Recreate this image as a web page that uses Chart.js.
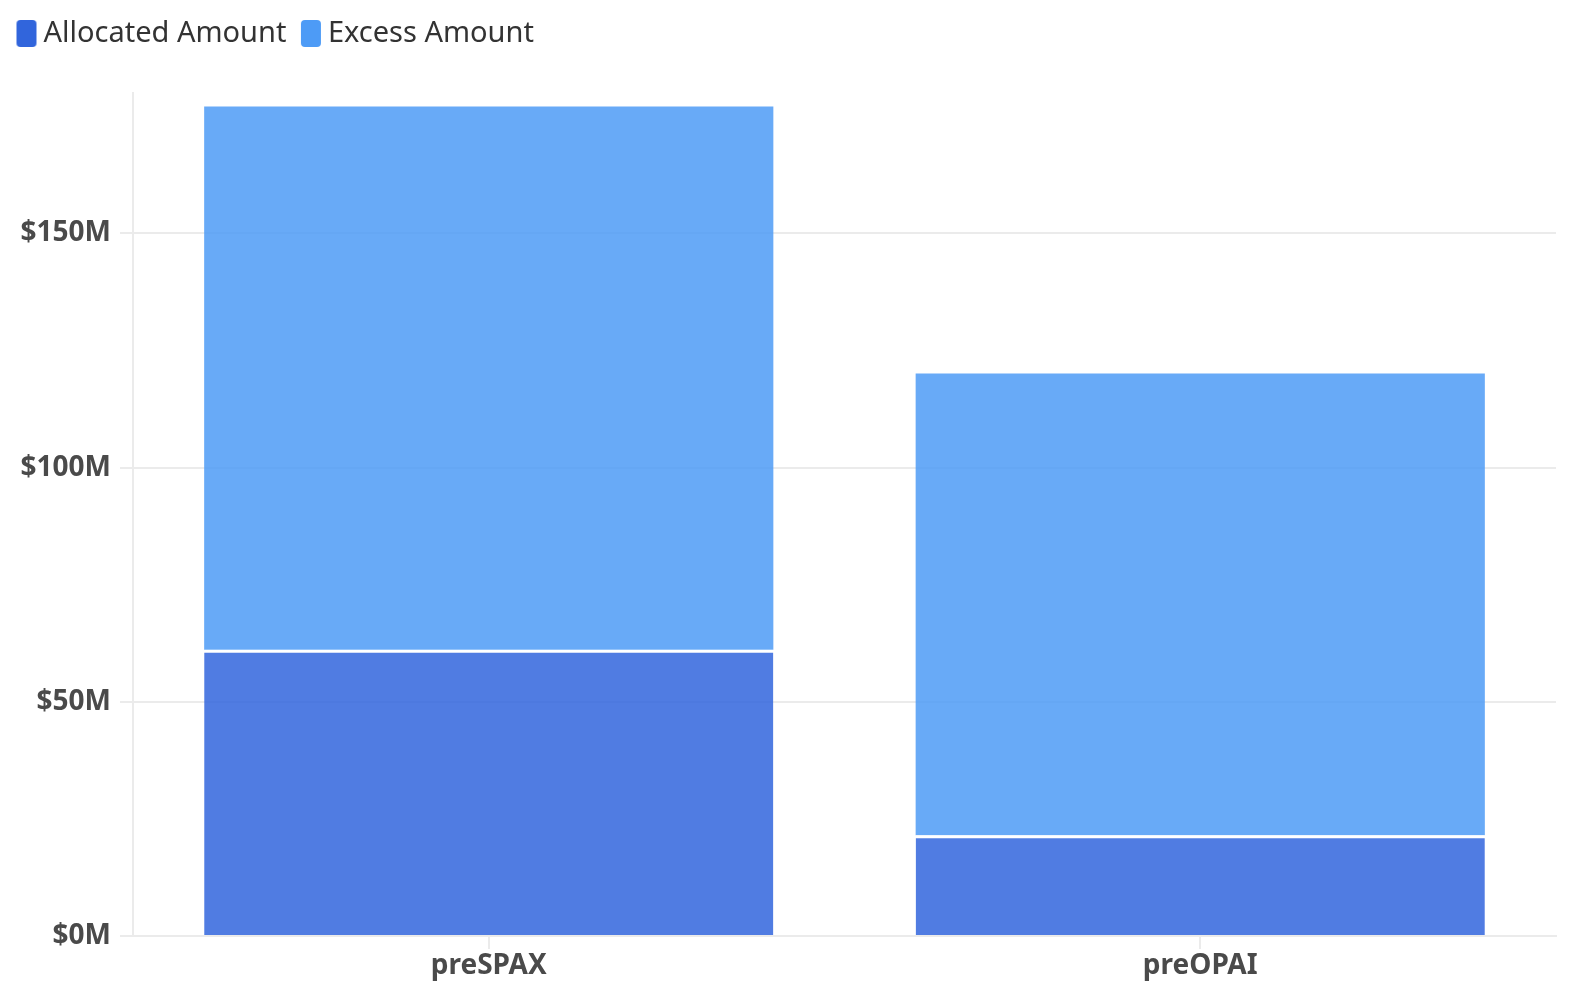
<!DOCTYPE html>
<html>
<head>
<meta charset="utf-8">
<script src="https://cdn.jsdelivr.net/npm/chart.js@4"></script>
<style>
  html, body { margin: 0; padding: 0; background: #fff; }
  #wrap { width: 1574px; height: 996px; position: relative; }
</style>
</head>
<body>
<div id="wrap"><canvas id="c"></canvas></div>
<script>
const categories = ["preSPAX", "preOPAI"];
const allocatedAmount = [61.1, 21.5];   // $M
const excessAmount = [116.0, 98.6];     // $M
const seriesNames = ["Allocated Amount", "Excess Amount"];
const yTicks = [0, 50, 100, 150];

const FONT = "'Noto Sans', 'Open Sans', sans-serif";
const solidColors = ["#3165dc", "#4d9bf6"];
const barColors = ["rgba(49,101,221,0.85)", "rgba(77,155,246,0.85)"];

function swatch(color) {
  const c = document.createElement('canvas');
  c.width = 40; c.height = 27;
  const g = c.getContext('2d');
  g.fillStyle = color;
  const x = 16, w = 20, h = 27, r = 4;
  g.beginPath();
  g.moveTo(x + r, 0);
  g.lineTo(x + w - r, 0); g.quadraticCurveTo(x + w, 0, x + w, r);
  g.lineTo(x + w, h - r); g.quadraticCurveTo(x + w, h, x + w - r, h);
  g.lineTo(x + r, h); g.quadraticCurveTo(x, h, x, h - r);
  g.lineTo(x, r); g.quadraticCurveTo(x, 0, x + r, 0);
  g.fill();
  return c;
}
const swatches = solidColors.map(swatch);

const legendMargin = {
  id: 'legendMargin',
  beforeInit(chart) {
    const orig = chart.legend.fit;
    chart.legend.fit = function () { orig.call(this); this.height += 35; };
  }
};

new Chart(document.getElementById('c'), {
  type: 'bar',
  data: {
    labels: categories,
    datasets: [
      { label: seriesNames[0], data: allocatedAmount, backgroundColor: barColors[0],
        borderColor: '#ffffff', borderWidth: { top: 3, left: 0, right: 0, bottom: 0 }, borderSkipped: false },
      { label: seriesNames[1], data: excessAmount, backgroundColor: barColors[1], borderWidth: 0 }
    ]
  },
  options: {
    responsive: true,
    maintainAspectRatio: false,
    animation: false,
    devicePixelRatio: 1,
    layout: { padding: { top: 9, left: 2, right: 18, bottom: 0 } },
    datasets: { bar: { categoryPercentage: 0.8, barPercentage: 1.0 } },
    plugins: {
      tooltip: { enabled: false },
      legend: {
        position: 'top',
        align: 'start',
        labels: {
          usePointStyle: true,
          pointStyleWidth: 17,
          boxHeight: 27,
          padding: 10,
          color: '#333333',
          font: { family: FONT, size: 29 },
          generateLabels(chart) {
            return Chart.defaults.plugins.legend.labels.generateLabels(chart).map((it, i) => {
              it.pointStyle = swatches[i];
              it.fillStyle = solidColors[i];
              it.lineWidth = 0;
              return it;
            });
          }
        }
      }
    },
    scales: {
      x: {
        stacked: true,
        grid: { display: true, offset: false, drawOnChartArea: false, drawTicks: true, tickLength: 13, color: '#ebebeb', lineWidth: 2 },
        border: { display: true, color: '#ebebeb', width: 2 },
        ticks: { color: '#4a4a4a', padding: 0, font: { family: FONT, size: 28, weight: 'bold' } },
        afterFit(scale) { scale.height = 60; }
      },
      y: {
        stacked: true,
        min: 0,
        max: 180,
        grid: { color: '#ebebeb', lineWidth: 2, tickLength: 13 },
        border: { display: true, color: '#ebebeb', width: 2 },
        ticks: {
          stepSize: 50,
          includeBounds: false,
          padding: 9,
          color: '#4a4a4a',
          font: { family: FONT, size: 28, weight: 'bold' },
          callback: v => yTicks.includes(v) ? '$' + v + 'M' : ''
        },
        afterFit(scale) { scale.width = 131; }
      }
    }
  },
  plugins: [legendMargin]
});
</script>
</body>
</html>
